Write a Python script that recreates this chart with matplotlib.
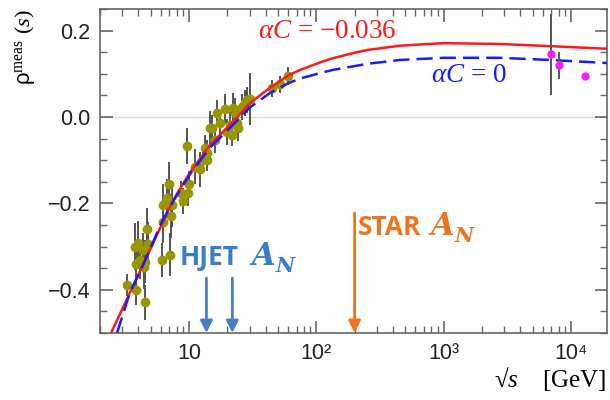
#!/usr/bin/env python3
# -*- coding: utf-8 -*-
"""
rho(s) measured vs sqrt(s), with the alpha*C fits and the HJET / STAR A_N energies.
"""

import matplotlib
matplotlib.use('Agg')
import matplotlib.pyplot as plt
from matplotlib.ticker import MultipleLocator, LogLocator, NullFormatter

TickSize = 15.5
LabelSize = 16
TextSize = 19.5

plt.rcParams['font.family'] = ['Liberation Sans', 'DejaVu Sans']
plt.rcParams['mathtext.fontset'] = 'custom'
plt.rcParams['mathtext.rm'] = 'Liberation Serif'
plt.rcParams['mathtext.it'] = 'Liberation Serif:italic'
plt.rcParams['mathtext.bf'] = 'Liberation Serif:bold'

#%% data

# fixed-target / ISR style points (olive)
pp_sqrt_s = [3.24, 3.84, 4.51, 3.77, 4.00, 3.84, 4.12, 4.46, 4.51, 4.38, 4.65, 4.79,
             6.11, 7.09, 6.21, 6.21, 6.76, 7.00, 7.18, 7.31, 8.61, 8.90, 9.88, 10.05,
             9.59, 11.1, 12.2, 12.9, 13.4, 13.9, 13.9, 14.6, 15.1, 16.0, 16.7, 17.5,
             19.2, 19.8, 21.0, 21.6, 22.3, 23.0, 23.7, 24.4, 25.9, 27.5, 28.4, 30.1,
             44.7, 51.9, 60.3]
pp_rho = [-0.389, -0.400, -0.429, -0.300, -0.291, -0.340, -0.331, -0.347, -0.335, -0.308,
          -0.260, -0.293, -0.331, -0.319, -0.242, -0.204, -0.188, -0.155, -0.229, -0.204,
          -0.177, -0.194, -0.175, -0.155, -0.067, -0.115, -0.121, -0.100, -0.072, -0.083,
          -0.100, -0.026, -0.026, -0.053, 0.009, -0.013, 0.018, -0.034, -0.019, -0.042,
          0.020, 0.009, -0.013, -0.026, 0.024, 0.032, 0.039, 0.041, 0.066, 0.076, 0.095]
pp_err = [0.025, 0.035, 0.040, 0.055, 0.050, 0.050, 0.045, 0.050, 0.050, 0.040,
          0.050, 0.050, 0.040, 0.050, 0.050, 0.050, 0.045, 0.050, 0.050, 0.050,
          0.030, 0.030, 0.030, 0.030, 0.042, 0.040, 0.040, 0.030, 0.030, 0.030,
          0.025, 0.040, 0.030, 0.030, 0.030, 0.030, 0.035, 0.030, 0.030, 0.025,
          0.035, 0.035, 0.030, 0.030, 0.030, 0.030, 0.030, 0.060, 0.020, 0.020, 0.020]

# LHC points (magenta)
lhc_sqrt_s = [7000, 8000, 13000]
lhc_rho = [0.145, 0.120, 0.094]
lhc_err = [0.094, 0.031, 0.005]

# alpha*C = -0.036 fit (red)
red_sqrt_s = [2.44, 4.28, 7.48, 10.2, 14.6, 24, 30, 43, 60, 74.5, 111, 135, 201,
              250, 454, 1000, 2775, 6850, 19200]
red_rho = [-0.500, -0.347, -0.193, -0.128, -0.065, 0.000, 0.032, 0.067, 0.096, 0.109,
           0.128, 0.136, 0.149, 0.155, 0.165, 0.171, 0.169, 0.164, 0.158]

# alpha*C = 0 fit (blue dashed)
blue_sqrt_s = [2.72, 3.4, 4.5, 6.14, 7.48, 10.2, 14.6, 24, 30, 43, 60, 74.5, 111,
               135, 201, 250, 454, 1000, 2775, 6850, 19200]
blue_rho = [-0.500, -0.410, -0.333, -0.242, -0.196, -0.132, -0.071, -0.008, 0.022,
            0.055, 0.078, 0.089, 0.103, 0.109, 0.118, 0.123, 0.132, 0.137, 0.137,
            0.132, 0.125]

# A_N measurement energies
hjet_sqrt_s = [13.7, 21.9]
star_sqrt_s = [200]

#%%

fig = plt.figure(figsize=(6.1, 4.0), dpi=100)
ax = fig.add_axes([0.164, 0.1675, 0.831, 0.81])

ax.axhline(0, color='#dcdcdc', linewidth=1.0, zorder=0)

ax.plot(red_sqrt_s, red_rho, color='#ff1a1a', linewidth=1.8, zorder=3)
ax.plot(blue_sqrt_s, blue_rho, color='#1a1aff', linewidth=1.8,
        linestyle=(0, (6.5, 2.8)), zorder=3)

ax.errorbar(pp_sqrt_s, pp_rho, yerr=pp_err, fmt='o', color='#999700',
            markersize=6, ecolor='#555555', elinewidth=1.4, capsize=0, zorder=2)
ax.errorbar(lhc_sqrt_s, lhc_rho, yerr=lhc_err, fmt='o', color='#ff1aff',
            markersize=5, ecolor='#555555', elinewidth=1.4, capsize=0, zorder=4)

# arrows for A_N energies
for e in hjet_sqrt_s:
    ax.annotate('', xy=(e, -0.5), xytext=(e, -0.373),
                arrowprops=dict(arrowstyle='-|>', color='#4a7fc1', linewidth=2,
                                mutation_scale=18, shrinkA=0, shrinkB=0))
for e in star_sqrt_s:
    ax.annotate('', xy=(e, -0.5), xytext=(e, -0.222),
                arrowprops=dict(arrowstyle='-|>', color='#ec7520', linewidth=2,
                                mutation_scale=18, shrinkA=0, shrinkB=0))

ax.text(35, 0.183, r'$\alpha C$ = −0.036', color='#ff1a1a', fontsize=TextSize,
        family='Liberation Serif', ha='left', va='baseline')
ax.text(800, 0.081, r'$\alpha C$ = 0', color='#1a1aff', fontsize=TextSize,
        family='Liberation Serif', ha='left', va='baseline')


def label_an(x_word, x_a, y, word, color):
    ax.text(x_word, y, word, color=color, fontsize=19, family='Open Sans',
            fontweight='bold', ha='left', va='baseline')
    ax.text(x_a, y, 'A', color=color, fontsize=22, family='DejaVu Serif',
            fontstyle='italic', fontweight='bold', ha='left', va='baseline')
    ax.annotate('N', xy=(x_a, y), xytext=(17, -5), textcoords='offset points',
                color=color, fontsize=15, family='DejaVu Serif',
                fontstyle='italic', fontweight='bold', ha='left', va='baseline')


label_an(8.5, 31, -0.343, 'HJET', '#3a7dc9')
label_an(212, 790, -0.273, 'STAR', '#ec7520')

ax.set_xscale('log')
ax.set_xlim(2.0, 19200)
ax.set_ylim(-0.5, 0.25)

ax.set_xticks([10, 100, 1000, 10000])
ax.set_xticklabels(['10', '10²', '10³', '10⁴'])
ax.xaxis.set_minor_locator(LogLocator(base=10, subs=range(2, 10), numticks=20))
ax.xaxis.set_minor_formatter(NullFormatter())
ax.set_yticks([-0.4, -0.2, 0.0, 0.2])
ax.set_yticklabels(['−0.4', '−0.2', '0.0', '0.2'])
ax.yaxis.set_minor_locator(MultipleLocator(0.05))

ax.tick_params(which='both', direction='in', top=True, right=True,
               color='#666666', labelsize=TickSize, labelcolor='#222222')
ax.tick_params(which='major', length=9, width=1.2, pad=7)
ax.tick_params(which='minor', length=5, width=1.0)
for s in ax.spines.values():
    s.set_color('#666666')
    s.set_linewidth(1.2)

ax.set_xlabel('√$s$    [GeV]', fontsize=18, family='Liberation Serif', loc='right',
              labelpad=1)
ax.set_ylabel(r'ρ$^{\mathrm{meas}}$ $(s)$', fontsize=LabelSize, loc='top')
ax.yaxis.set_label_coords(-0.125, 1.0)

plt.savefig('out.png', dpi=100)
